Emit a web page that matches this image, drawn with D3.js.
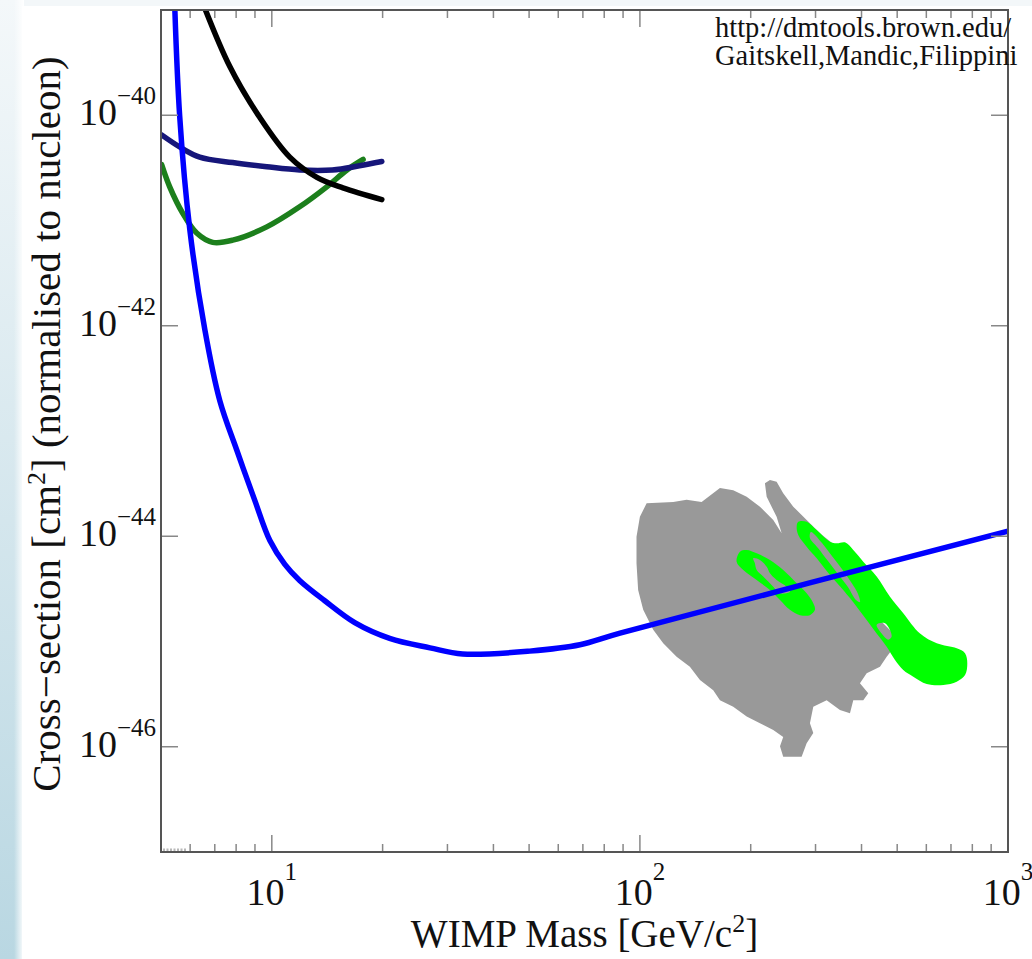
<!DOCTYPE html>
<html>
<head>
<meta charset="utf-8">
<script src="https://cdn.jsdelivr.net/npm/d3@7"></script>
<style>
  html, body { margin: 0; padding: 0; background: #fff; }
  svg { display: block; font-family: "Liberation Serif", "Times New Roman", serif; }
</style>
</head>
<body>
<div id="chart"></div>
<script>
// WIMP mass [GeV/c^2] vs cross-section [cm^2]
const blueLimit = [
  [5.42, 1.9e-39], [5.62, 9.8e-41], [5.99, 8.1e-42], [6.58, 9.1e-43], [7.22, 1.95e-43],
  [8.03, 6.6e-44], [8.99, 2.19e-44], [9.88, 9.1e-45], [10.85, 5.4e-45], [11.9, 3.8e-45],
  [13.9, 2.45e-45], [16.8, 1.51e-45], [20.9, 1.07e-45], [26.9, 8.7e-46], [33.0, 7.6e-46],
  [50.2, 8.1e-46], [68.7, 9.3e-46], [88.3, 1.2e-45], [1000, 1.12e-44]
];
const blackLimit = [
  [6.37, 1.38e-39], [7.69, 2.9e-40], [9.28, 9.5e-41], [11.19, 4.0e-41],
  [13.26, 2.57e-41], [15.6, 2.04e-41], [19.9, 1.58e-41]
];
const navyLimit = [
  [5.02, 6.5e-41], [5.62, 5.0e-41], [6.37, 4.0e-41], [7.83, 3.55e-41], [9.69, 3.24e-41],
  [11.9, 3.02e-41], [14.6, 3.02e-41], [17.3, 3.31e-41], [19.9, 3.63e-41]
];
const greenLimit = [
  [5.02, 3.4e-41], [5.28, 2.09e-41], [5.73, 1.17e-41], [6.25, 7.6e-42], [6.91, 6.2e-42],
  [7.83, 6.5e-42], [9.69, 8.7e-42], [11.9, 1.35e-41], [14.1, 2.09e-41], [16.0, 3.02e-41],
  [17.7, 3.8e-41]
];
// gray allowed region
const grayRegion = [
  [104.3, 2.06e-44], [123.2, 2.12e-44], [133.9, 2.22e-44], [147.1, 2.12e-44], [165.0, 2.87e-44],
  [179.3, 2.74e-44], [195.0, 2.37e-44], [211.9, 1.91e-44], [230.3, 1.43e-44], [242.7, 1.07e-44],
  [235.2, 1.53e-44], [221.0, 2.37e-44], [218.6, 3.19e-44], [225.6, 3.42e-44], [235.2, 3.30e-44],
  [245.1, 2.56e-44], [261.0, 1.91e-44], [283.8, 1.43e-44], [308.5, 1.07e-44], [342.4, 7.96e-45],
  [379.9, 5.53e-45], [413.1, 3.84e-45], [430.5, 2.66e-45], [439.7, 1.72e-45], [483.9, 1.23e-45],
  [496.2, 9.3e-46], [468.2, 7.17e-46], [449.0, 5.76e-46], [413.1, 4.99e-46], [396.1, 4.01e-46],
  [417.2, 3.22e-46], [404.4, 2.77e-46], [379.9, 2.77e-46], [372.1, 2.08e-46], [349.5, 2.23e-46],
  [321.6, 2.77e-46], [295.8, 2.40e-46], [289.7, 1.67e-46], [295.8, 1.35e-46], [283.8, 1.08e-46],
  [275.0, 8.05e-47], [245.1, 8.05e-47], [240.2, 1.01e-46], [245.1, 1.24e-46], [230.3, 1.44e-46],
  [211.9, 1.67e-46], [195.0, 1.94e-46], [179.3, 2.40e-46], [165.0, 2.77e-46], [158.2, 3.45e-46],
  [145.6, 4.31e-46], [136.7, 5.76e-46], [125.8, 7.17e-46], [115.7, 9.6e-46], [108.7, 1.29e-45],
  [102.1, 2.0e-45], [98.9, 3.08e-45], [97.9, 5.53e-45], [97.9, 9.9e-45], [100.0, 1.53e-44]
];
// green allowed regions (outer contour + holes)
const greenSmallOuter = [
  [187.0, 7.13e-45], [195.0, 7.40e-45], [207.6, 6.89e-45], [225.6, 5.95e-45], [245.1, 4.77e-45],
  [266.6, 3.58e-45], [283.8, 2.87e-45], [295.8, 2.31e-45], [298.9, 2.0e-45], [289.7, 1.78e-45],
  [272.2, 1.78e-45], [255.6, 2.0e-45], [240.2, 2.48e-45], [225.6, 3.08e-45], [207.6, 3.84e-45],
  [190.9, 4.77e-45], [183.1, 5.73e-45]
];
const greenSmallHole = [
  [203.2, 6.17e-45], [211.9, 5.95e-45], [221.0, 5.14e-45], [225.6, 4.45e-45], [235.2, 3.84e-45],
  [250.4, 3.31e-45], [255.6, 2.97e-45], [240.2, 2.87e-45], [230.3, 3.31e-45], [216.3, 4.14e-45],
  [207.6, 4.77e-45], [205.3, 5.53e-45]
];
const greenBigOuter = [
  [269.3, 1.374e-44], [283.8, 1.374e-44], [302.2, 1.146e-44], [328.3, 8.88e-45], [342.4, 8.57e-45],
  [360.6, 8.75e-45], [379.9, 7.40e-45], [404.4, 5.73e-45], [439.7, 4.14e-45], [478.0, 2.66e-45],
  [519.4, 1.86e-45], [576.8, 1.19e-45], [640.4, 9.6e-46], [725.5, 8.61e-46], [764.3, 7.73e-46],
  [775.2, 6.21e-46], [764.3, 4.80e-46], [725.5, 4.15e-46], [667.4, 3.86e-46], [601.4, 3.95e-46],
  [552.9, 4.63e-46], [519.4, 5.36e-46], [493.2, 6.68e-46], [468.2, 8.92e-46], [439.7, 1.19e-45],
  [413.1, 1.60e-45], [388.1, 2.14e-45], [356.8, 3.08e-45], [328.3, 4.29e-45], [302.2, 6.17e-45],
  [283.8, 7.96e-45], [269.3, 1.03e-44], [266.6, 1.233e-44]
];
const greenBigHoleA = [
  [291.5, 1.096e-44], [312.4, 8.63e-45], [332.5, 6.49e-45], [353.9, 4.89e-45], [374.5, 3.67e-45],
  [391.3, 2.83e-45], [396.1, 2.37e-45], [386.4, 2.48e-45], [367.4, 3.30e-45], [345.1, 4.38e-45],
  [324.3, 5.82e-45], [304.6, 7.73e-45], [289.7, 9.62e-45]
];
const greenBigHoleB = [
  [439.7, 1.44e-45], [463.2, 1.49e-45], [483.1, 1.12e-45], [472.9, 1.04e-45], [453.7, 1.19e-45]
];

const xTicksMajor = [10, 100, 1000];
const xTicksMinor = [6, 7, 8, 9, 20, 30, 40, 50, 60, 70, 80, 90, 200, 300, 400, 500, 600, 700, 800, 900];
const yTicks = [1e-40, 1e-42, 1e-44, 1e-46];

const W = 1032, H = 959;
const margin = { left: 161, right: 24, top: 10, bottom: 107 };

const svg = d3.select("#chart").append("svg").attr("width", W).attr("height", H);

// slide background strip on the left
const defs = svg.append("defs");
const bg = defs.append("linearGradient").attr("id", "bgGrad").attr("x1", 0).attr("y1", 0).attr("x2", 0).attr("y2", 1);
bg.append("stop").attr("offset", "0%").attr("stop-color", "#f4f8fa");
bg.append("stop").attr("offset", "100%").attr("stop-color", "#b9d7e2");
const fade = defs.append("linearGradient").attr("id", "fadeGrad").attr("x1", 0).attr("y1", 0).attr("x2", 1).attr("y2", 0);
fade.append("stop").attr("offset", "0%").attr("stop-color", "#fff").attr("stop-opacity", 0);
fade.append("stop").attr("offset", "100%").attr("stop-color", "#fff").attr("stop-opacity", 1);
svg.append("rect").attr("width", W).attr("height", H).attr("fill", "#fff");
svg.append("rect").attr("width", W).attr("height", 6).attr("fill", "#f3f7f9");
svg.append("rect").attr("width", 22).attr("height", H).attr("fill", "url(#bgGrad)");
svg.append("rect").attr("x", 14).attr("width", 10).attr("height", H).attr("fill", "url(#fadeGrad)");

const x = d3.scaleLog().domain([5, 1000]).range([margin.left, W - margin.right]);
const y = d3.scaleLog().domain([1e-47, 1e-39]).range([H - margin.bottom, margin.top]);

defs.append("clipPath").attr("id", "plotClip").append("rect")
  .attr("x", x.range()[0]).attr("y", y.range()[1])
  .attr("width", x.range()[1] - x.range()[0]).attr("height", y.range()[0] - y.range()[1]);

const plot = svg.append("g").attr("clip-path", "url(#plotClip)");

const ringPath = d3.line().x(d => x(d[0])).y(d => y(d[1])).curve(d3.curveCatmullRomClosed.alpha(0.5));
const polyPath = d3.line().x(d => x(d[0])).y(d => y(d[1])).curve(d3.curveLinearClosed);

// regions
plot.append("path").attr("d", polyPath(grayRegion)).attr("fill", "#999999");
plot.append("path")
  .attr("d", ringPath(greenSmallOuter) + ringPath(greenSmallHole))
  .attr("fill", "#00ff00").attr("fill-rule", "evenodd");
plot.append("path")
  .attr("d", ringPath(greenBigOuter) + ringPath(greenBigHoleA) + ringPath(greenBigHoleB))
  .attr("fill", "#00ff00").attr("fill-rule", "evenodd");

// exclusion curves
const curve = d3.line().x(d => x(d[0])).y(d => y(d[1])).curve(d3.curveCatmullRom.alpha(0.5));
const series = [
  { data: greenLimit, color: "#1c7f1c" },
  { data: navyLimit, color: "#16167a" },
  { data: blackLimit, color: "#000000" },
  { data: blueLimit, color: "#0000ff" }
];
series.forEach(s => {
  plot.append("path").attr("d", curve(s.data))
    .attr("fill", "none").attr("stroke", s.color)
    .attr("stroke-width", 5.5).attr("stroke-linejoin", "round").attr("stroke-linecap", "round");
});

// small dotted marker at bottom-left corner
svg.append("line")
  .attr("x1", x(5) + 2).attr("x2", x(5.9)).attr("y1", y.range()[0] - 2).attr("y2", y.range()[0] - 2)
  .attr("stroke", "#b8b8b8").attr("stroke-width", 3).attr("stroke-dasharray", "2,1.5");

// ticks (mirrored on all sides)
const axes = svg.append("g").attr("stroke", "#888").attr("stroke-width", 1.5);
const [yb, yt] = y.range();
const [xl, xr] = x.range();
xTicksMajor.concat(xTicksMinor).forEach(t => {
  const len = xTicksMajor.includes(t) ? 17 : 8;
  axes.append("line").attr("x1", x(t)).attr("x2", x(t)).attr("y1", yb).attr("y2", yb - len);
  axes.append("line").attr("x1", x(t)).attr("x2", x(t)).attr("y1", yt).attr("y2", yt + len);
});
yTicks.forEach(t => {
  axes.append("line").attr("x1", xl).attr("x2", xl + 17).attr("y1", y(t)).attr("y2", y(t));
  axes.append("line").attr("x1", xr).attr("x2", xr - 17).attr("y1", y(t)).attr("y2", y(t));
});

// frame
svg.append("rect")
  .attr("x", xl).attr("y", yt).attr("width", xr - xl).attr("height", yb - yt)
  .attr("fill", "none").attr("stroke", "#555").attr("stroke-width", 2);

// tick labels
const exp = v => Math.round(Math.log10(v));
const fmtExp = e => (e < 0 ? "\u2212" + (-e) : String(e));

xTicksMajor.forEach(t => {
  const txt = svg.append("text").attr("x", x(t)).attr("y", 905)
    .attr("text-anchor", "middle").attr("font-size", 38).attr("fill", "#111");
  txt.append("tspan").text("10");
  txt.append("tspan").attr("dy", -25).attr("font-size", 25).text(fmtExp(exp(t)));
});
yTicks.forEach(t => {
  const txt = svg.append("text").attr("x", 156).attr("y", y(t) + 10)
    .attr("text-anchor", "end").attr("font-size", 38).attr("fill", "#111");
  txt.append("tspan").text("10");
  txt.append("tspan").attr("dy", -21).attr("font-size", 25).text(fmtExp(exp(t)));
});

// axis titles
const xt = svg.append("text").attr("x", (xl + xr) / 2) .attr("y", 947)
  .attr("text-anchor", "middle").attr("font-size", 39).attr("fill", "#111");
xt.append("tspan").text("WIMP Mass [GeV/c");
xt.append("tspan").attr("dy", -15).attr("font-size", 26).text("2");
xt.append("tspan").attr("dy", 15).text("]");

const yt2 = svg.append("text").attr("transform", "translate(60,424) rotate(-90)")
  .attr("text-anchor", "middle").attr("font-size", 41).attr("fill", "#111");
yt2.append("tspan").text("Cross\u2212section [cm");
yt2.append("tspan").attr("dy", -15).attr("font-size", 26).text("2");
yt2.append("tspan").attr("dy", 15).text("] (normalised to nucleon)");

// credit
const credit = ["http://dmtools.brown.edu/", "Gaitskell,Mandic,Filippini"];
credit.forEach((line, i) => {
  svg.append("text").attr("x", 715).attr("y", 37 + i * 28)
    .attr("font-size", 28.5).attr("fill", "#111").text(line);
});
</script>
</body>
</html>
